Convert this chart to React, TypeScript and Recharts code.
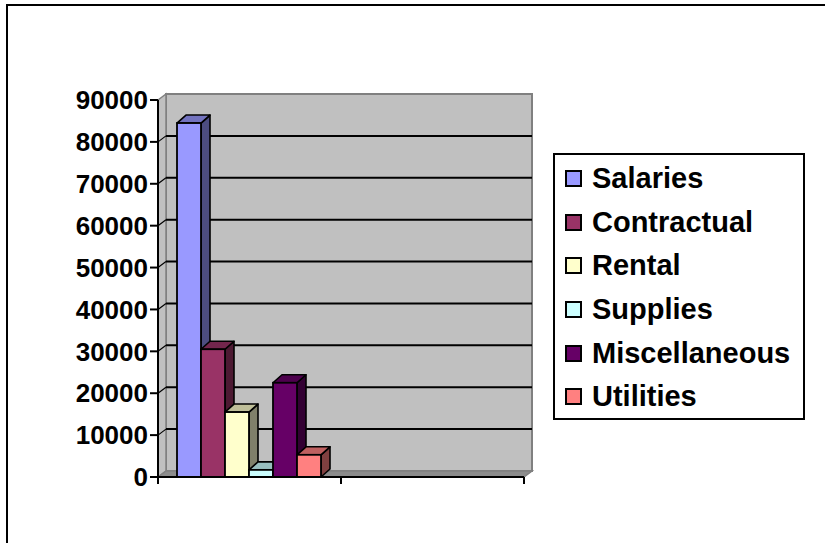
import React from "react";
import { BarChart, Bar, XAxis, YAxis, CartesianGrid } from "recharts";

const categories = ["Period 1", "Period 2"];
const seriesNames = ["Salaries", "Contractual", "Rental", "Supplies", "Miscellaneous", "Utilities"];
const salaries = [84500, null];
const contractual = [30500, null];
const rental = [15500, null];
const supplies = [1700, null];
const miscellaneous = [22500, null];
const utilities = [5300, null];
const yTicks = [0, 10000, 20000, 30000, 40000, 50000, 60000, 70000, 80000, 90000];

const frontColors = ["#9999FF", "#993366", "#FFFFCC", "#CCFFFF", "#660066", "#FF8080"];
const sideColors = ["#4D4D80", "#4D1A33", "#80806A", "#668080", "#330033", "#804040"];
const topColors = ["#7373BF", "#73264D", "#BFBF99", "#99BFBF", "#4D004D", "#BF6060"];

const seriesValues = [salaries, contractual, rental, supplies, miscellaneous, utilities];

const data = categories.map((c, i) => {
  const row: any = { name: c };
  seriesNames.forEach((s, k) => {
    row[s] = seriesValues[k][i];
  });
  return row;
});

const FONT = '"Liberation Sans", Arial, sans-serif';
const BDX = 9;
const BDY = 8;
const WX = 8;
const WY = 6;
const X_TICK = 7;

const makeShape = (k: number) => (props: any) => {
  const { x, y, width, height } = props;
  if (x == null || y == null || !height || height <= 0) return <g />;
  const w = width;
  const h = height;
  const topPts = `${x},${y} ${x + BDX},${y - BDY} ${x + w + BDX},${y - BDY} ${x + w},${y}`;
  const sidePts = `${x + w},${y} ${x + w + BDX},${y - BDY} ${x + w + BDX},${y + h - BDY} ${x + w},${y + h}`;
  return (
    <g>
      <polygon points={sidePts} fill={sideColors[k]} stroke="#000" strokeWidth={1.6} strokeLinejoin="round" />
      <polygon points={topPts} fill={topColors[k]} stroke="#000" strokeWidth={1.6} strokeLinejoin="round" />
      <rect x={x} y={y} width={w} height={h} fill={frontColors[k]} stroke="#000" strokeWidth={1.8} />
    </g>
  );
};

const gridLine = (p: any) => {
  const pts: number[] = p.horizontalPoints || [];
  const top = p.y != null ? p.y : Math.min(...pts);
  const bottom = p.y != null && p.height != null ? p.y + p.height : Math.max(...pts);
  const x1 = p.x1;
  const x2 = p.x2;
  const yy = p.y1;
  const isEdge = Math.abs(yy - top) < 0.5 || Math.abs(yy - bottom) < 0.5;
  return (
    <g key={p.key}>
      {p.index === 0 && (
        <g>
          <rect x={x1 + WX} y={top - WY} width={x2 - x1} height={bottom - top} fill="#C0C0C0" stroke="#808080" strokeWidth={2} />
          <polygon
            points={`${x1},${top} ${x1 + WX},${top - WY} ${x1 + WX},${bottom - WY} ${x1},${bottom}`}
            fill="#C0C0C0"
            stroke="#808080"
            strokeWidth={1.5}
          />
          <polygon
            points={`${x1},${bottom} ${x1 + WX},${bottom - WY} ${x2 + WX},${bottom - WY} ${x2},${bottom}`}
            fill="#8C8C8C"
            stroke="#808080"
            strokeWidth={1.5}
          />
        </g>
      )}
      {!isEdge && (
        <g>
          <line x1={x1} y1={yy} x2={x1 + WX} y2={yy - WY} stroke="#000" strokeWidth={1.2} />
          <line x1={x1 + WX} y1={yy - WY} x2={x2 + WX} y2={yy - WY} stroke="#000" strokeWidth={2} />
        </g>
      )}
    </g>
  );
};

const boundaryTick = (p: any) => {
  const count = p.visibleTicksCount || categories.length;
  if (p.width == null || p.x == null || p.y == null) return <g />;
  const band = p.width / count;
  const left = p.x - band / 2;
  const isLast = p.index === count - 1;
  return (
    <g>
      <line x1={left} y1={p.y} x2={left} y2={p.y + X_TICK} stroke="#000" strokeWidth={2} />
      {isLast && <line x1={left + band} y1={p.y} x2={left + band} y2={p.y + X_TICK} stroke="#000" strokeWidth={2} />}
    </g>
  );
};

export default function App() {
  return (
    <div style={{ position: "absolute", left: 0, top: 0, width: 825, height: 543, overflow: "hidden", background: "#fff", fontFamily: FONT }}>
      <div
        style={{
          position: "absolute",
          left: 6,
          top: 4,
          width: 825,
          height: 543,
          borderTop: "2px solid #000",
          borderLeft: "2px solid #000",
        }}
      />
      <div style={{ position: "absolute", left: 0, top: 0 }}>
        <BarChart
          width={825}
          height={543}
          data={data}
          margin={{ top: 100, right: 301, bottom: 36, left: 0 }}
          barCategoryGap={19}
          barGap={0}
        >
          <CartesianGrid vertical={false} horizontal={gridLine as any} />
          <XAxis
            dataKey="name"
            height={30}
            interval={0}
            tickSize={0}
            tickMargin={0}
            tickLine={false}
            tick={boundaryTick}
            axisLine={{ stroke: "#000", strokeWidth: 2 }}
          />
          <YAxis
            width={158}
            domain={[0, 90000]}
            ticks={yTicks}
            interval={0}
            tickSize={8}
            tickMargin={2}
            axisLine={{ stroke: "#000", strokeWidth: 2 }}
            tickLine={{ stroke: "#000", strokeWidth: 2 }}
            tick={{ fontSize: 26, fontWeight: "bold", fill: "#000", fontFamily: FONT }}
          />
          {seriesNames.map((s, k) => (
            <Bar key={s} dataKey={s} isAnimationActive={false} shape={makeShape(k)} />
          ))}
        </BarChart>
      </div>
      <div
        style={{
          position: "absolute",
          left: 553,
          top: 153,
          width: 252,
          height: 267,
          boxSizing: "border-box",
          border: "2px solid #000",
          background: "#fff",
          paddingTop: 2,
        }}
      >
        {seriesNames.map((s, k) => (
          <div key={s} style={{ display: "flex", alignItems: "center", height: 43.6 }}>
            <div
              style={{
                width: 17,
                height: 17,
                marginLeft: 10,
                boxSizing: "border-box",
                border: "2px solid #000",
                background: frontColors[k],
                flex: "none",
              }}
            />
            <span style={{ marginLeft: 10, fontSize: 29, fontWeight: "bold", lineHeight: 1, color: "#000", whiteSpace: "nowrap" }}>{s}</span>
          </div>
        ))}
      </div>
    </div>
  );
}
